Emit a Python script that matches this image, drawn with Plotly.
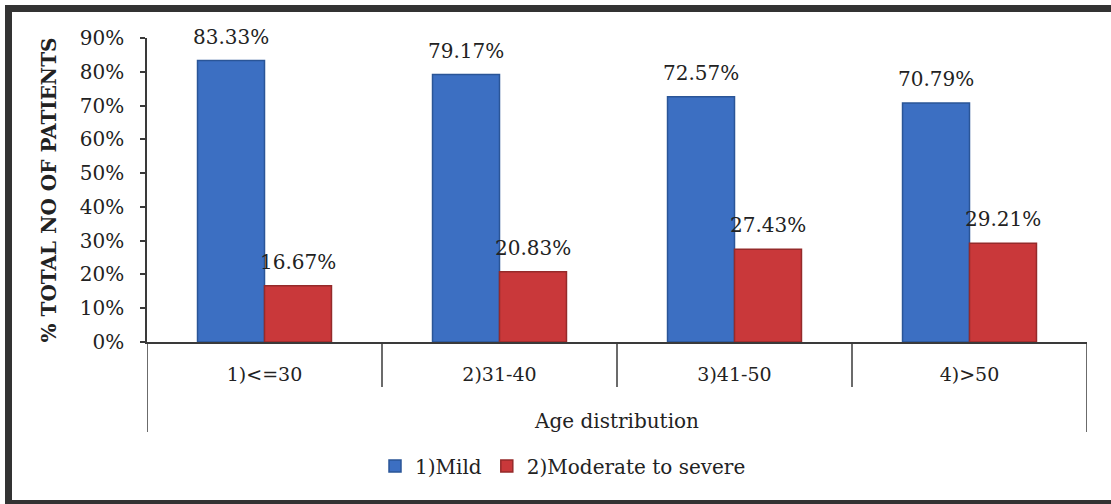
import plotly.graph_objects as go

# Age groups and share of patients per severity class
age_groups = ["1)<=30", "2)31-40", "3)41-50", "4)>50"]
series_names = ["1)Mild", "2)Moderate to severe"]
mild = [0.8333, 0.7917, 0.7257, 0.7079]
moderate_severe = [0.1667, 0.2083, 0.2743, 0.2921]
y_ticks = [0.0, 0.1, 0.2, 0.3, 0.4, 0.5, 0.6, 0.7, 0.8, 0.9]

W, H = 1111, 504
M_L, M_R, M_T, M_B = 147, 24, 38, 162
PLOT_W = W - M_L - M_R
PLOT_H = H - M_T - M_B
BARGAP = 0.43
FONT = "DejaVu Serif"
AXIS_COLOR = "#3a3a3a"

fills = ["#3c6fc2", "#c9383a"]
edges = ["#2a5597", "#952a2a"]
values = [mild, moderate_severe]


def px_x(p):
    return (p - M_L) / PLOT_W


def px_y(p):
    return (H - M_B - p) / PLOT_H


fig = go.Figure()
for name, vals, fill, edge in zip(series_names, values, fills, edges):
    fig.add_trace(go.Bar(
        x=age_groups, y=vals, name=name,
        marker=dict(color=fill, line=dict(color=edge, width=1.5)),
    ))

# value labels above each bar
n_series = len(values)
bar_w = (1 - BARGAP) / n_series
for s, vals in enumerate(values):
    offset = (s - (n_series - 1) / 2) * bar_w
    for j, v in enumerate(vals):
        fig.add_annotation(
            x=j + offset, y=v, xref="x", yref="y",
            text=f"{v * 100:.2f}%", showarrow=False,
            yanchor="bottom", yshift=10,
            font=dict(family=FONT, size=20, color="#222"),
        )

shapes = []
# category separators below the axis line
n = len(age_groups)
for k in range(n + 1):
    outer = k in (0, n)
    shapes.append(dict(
        type="line", xref="x", yref="paper",
        x0=k - 0.5, x1=k - 0.5, y0=0, y1=px_y(432 if outer else 387),
        line=dict(color=AXIS_COLOR, width=1.5),
    ))
# dark frame around the whole chart
shapes.append(dict(
    type="rect", xref="paper", yref="paper", layer="above",
    x0=px_x(8.5), x1=px_x(1125), y0=px_y(8.5), y1=px_y(503.5),
    line=dict(color="#333333", width=7), fillcolor="rgba(0,0,0,0)",
))

fig.update_layout(
    width=W, height=H, autosize=False,
    margin=dict(l=M_L, r=M_R, t=M_T, b=M_B),
    paper_bgcolor="white", plot_bgcolor="white",
    barmode="group", bargap=BARGAP, bargroupgap=0,
    font=dict(family=FONT, size=19, color="#222"),
    shapes=shapes,
    showlegend=True,
    legend=dict(
        orientation="h", x=px_x(563), xanchor="center",
        y=px_y(466), yanchor="middle",
        font=dict(family=FONT, size=20, color="#222"),
        itemwidth=30, traceorder="normal",
    ),
    xaxis=dict(
        type="category", range=[-0.5, n - 0.5],
        showline=True, linecolor=AXIS_COLOR, linewidth=1.5,
        ticks="", showgrid=False,
        tickfont=dict(family=FONT, size=19),
        ticklabelstandoff=14,
        title=dict(text="Age distribution", standoff=30,
                   font=dict(family=FONT, size=20)),
    ),
    yaxis=dict(
        range=[0, 0.9], tickvals=y_ticks, tickformat=".0%",
        showline=True, linecolor=AXIS_COLOR, linewidth=1.5,
        ticks="outside", ticklen=5, tickcolor=AXIS_COLOR, tickwidth=1.5,
        showgrid=False, zeroline=False,
        tickfont=dict(family=FONT, size=20),
        ticklabelstandoff=12,
        title=dict(text="<b>% TOTAL NO OF PATIENTS</b>", standoff=18,
                   font=dict(family=FONT, size=20)),
    ),
)

fig.write_html("out.html")
